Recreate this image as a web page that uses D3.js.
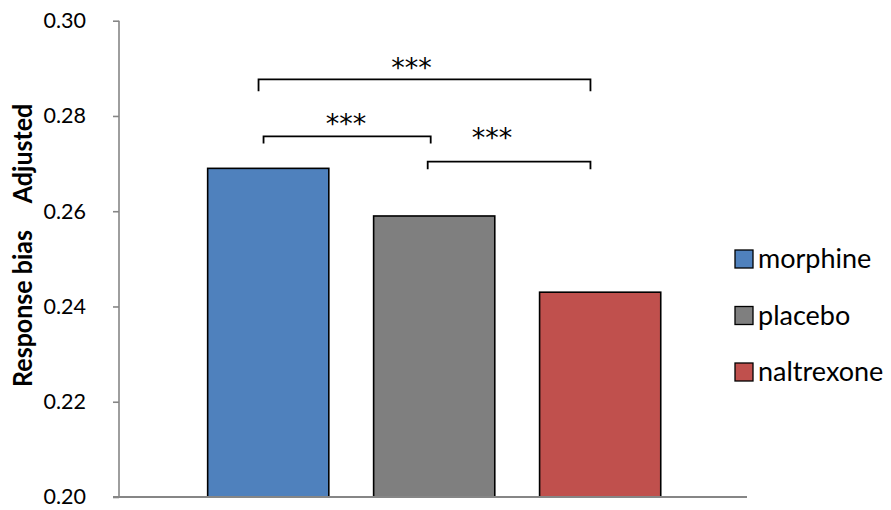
<!DOCTYPE html>
<html>
<head>
<meta charset="utf-8">
<script src="https://cdn.jsdelivr.net/npm/d3@7"></script>
<style>
  html, body { margin: 0; padding: 0; background: #fff; }
  svg { display: block; }
  text { font-family: Lato, "Open Sans", sans-serif; }
</style>
</head>
<body>
<svg id="chart" width="891" height="510"></svg>
<script>
// ---- data ----
const categories = ["morphine", "placebo", "naltrexone"];
const values = [0.269, 0.259, 0.243];
const colors = ["#4F81BD", "#7F7F7F", "#C0504D"];
const yTicks = [0.20, 0.22, 0.24, 0.26, 0.28, 0.30];
const yTitleParts = ["Response bias", "Adjusted"];
const comparisons = [
  { from: "morphine", to: "naltrexone", level: 0.2877, label: "***" },
  { from: "morphine", to: "placebo", level: 0.2757, label: "***" },
  { from: "placebo", to: "naltrexone", level: 0.2704, label: "***" }
];

// ---- layout ----
const svg = d3.select("#chart");
const plot = { left: 119, right: 747, top: 20.7, bottom: 497 };

const x = d3.scaleBand()
  .domain(categories)
  .range([plot.left + 1.2, plot.right + 1.2])
  .paddingInner(0.27)
  .paddingOuter(0.527);

const y = d3.scaleLinear()
  .domain([0.20, 0.30])
  .range([plot.bottom, plot.top]);

const cx = c => x(c) + x.bandwidth() / 2;

// bars
svg.append("g").selectAll("rect")
  .data(categories)
  .join("rect")
  .attr("x", c => x(c))
  .attr("y", (c, i) => y(values[i]))
  .attr("width", x.bandwidth())
  .attr("height", (c, i) => y(0.20) - y(values[i]))
  .attr("fill", (c, i) => colors[i])
  .attr("stroke", "#000")
  .attr("stroke-width", 1.6);

// y axis
const yAxis = d3.axisLeft(y)
  .tickValues(yTicks)
  .tickFormat(d3.format(".2f"))
  .tickSize(6)
  .tickPadding(27);
const gy = svg.append("g")
  .attr("transform", `translate(${plot.left},0)`)
  .call(yAxis);
gy.select(".domain").attr("stroke", "#868686").attr("stroke-width", 1.6)
  .attr("d", `M0,${plot.top}V${plot.bottom}`);
gy.selectAll(".tick line").attr("stroke", "#868686").attr("stroke-width", 1.6);
gy.selectAll(".tick text")
  .attr("fill", "#000")
  .style("font-size", "21.5px")
  .style("font-family", "Lato, sans-serif");

// x axis line
svg.append("line")
  .attr("x1", plot.left - 6).attr("x2", plot.right)
  .attr("y1", plot.bottom).attr("y2", plot.bottom)
  .attr("stroke", "#868686").attr("stroke-width", 2);

// y title (rotated, two parts with a gap), condensed to mimic the original face
const gt = svg.append("g").attr("transform", "rotate(-90)");
const titleCenters = [-308.5, -153.5];
const titleTexts = yTitleParts.map((s, i) =>
  gt.append("text")
    .attr("text-anchor", "middle")
    .style("font-size", "26px")
    .style("font-weight", "bold")
    .text(s));
const k = 157 / titleTexts[0].node().getComputedTextLength();
titleTexts.forEach((t, i) =>
  t.attr("transform", `translate(${titleCenters[i]},32) scale(${k},1)`));

// significance brackets
const bracketOffsets = [
  { l: -9.7, r: -9.7, drop: 12, sx: -13, sy: -2 },
  { l: -4.7, r: -3.5, drop: 7, sx: -1, sy: -3 },
  { l: -6.5, r: -9.7, drop: 7.6, sx: -17, sy: -15 }
];
const gb = svg.append("g");
comparisons.forEach((c, i) => {
  const o = bracketOffsets[i];
  const x1 = cx(c.from) + o.l, x2 = cx(c.to) + o.r, yy = y(c.level);
  gb.append("path")
    .attr("d", `M${x1},${yy + o.drop}V${yy}H${x2}V${yy + o.drop}`)
    .attr("fill", "none")
    .attr("stroke", "#000")
    .attr("stroke-width", 1.8);
  gb.append("text")
    .attr("x", (x1 + x2) / 2 + o.sx)
    .attr("y", yy + o.sy)
    .attr("text-anchor", "middle")
    .style("font-family", "'DejaVu Sans', sans-serif")
    .style("font-size", "27px")
    .text(c.label);
});

// legend
const legend = svg.append("g");
const legendRowY = d3.scalePoint().domain(categories).range([259, 372]);
categories.forEach((c, i) => {
  const ly = legendRowY(c);
  legend.append("rect")
    .attr("x", 735).attr("y", ly - 9)
    .attr("width", 18).attr("height", 18)
    .attr("fill", colors[i])
    .attr("stroke", "#000").attr("stroke-width", 1.3);
  legend.append("text")
    .attr("x", 758).attr("y", ly)
    .attr("dy", "0.35em")
    .style("font-size", "27px")
    .text(c);
});
</script>
</body>
</html>
